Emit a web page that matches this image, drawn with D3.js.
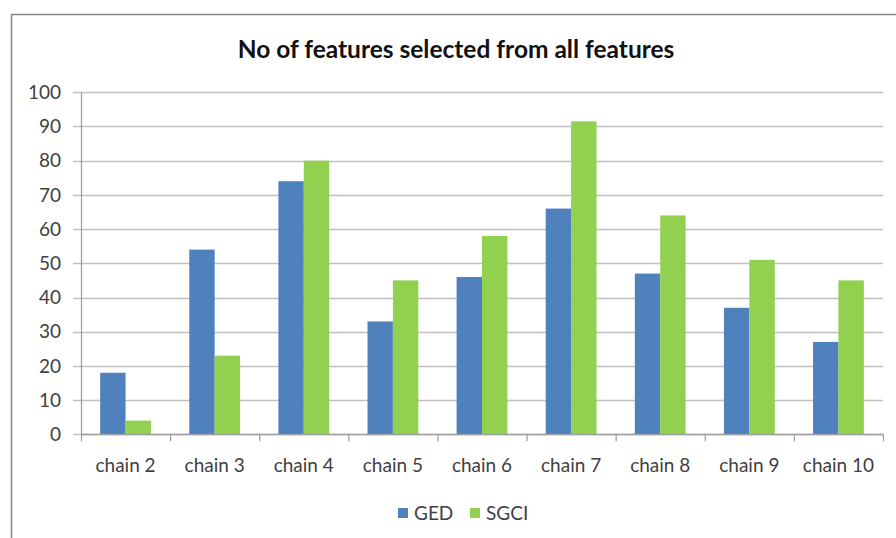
<!DOCTYPE html>
<html>
<head>
<meta charset="utf-8">
<script src="https://cdn.jsdelivr.net/npm/d3@7"></script>
<style>
  body { margin: 0; background: #fff; }
  text { font-family: Lato, "Open Sans", sans-serif; fill: #404040; }
</style>
</head>
<body>
<script>
// data
const categories = ["chain 2", "chain 3", "chain 4", "chain 5", "chain 6", "chain 7", "chain 8", "chain 9", "chain 10"];
const series = ["GED", "SGCI"];
const ged = [18, 54, 74, 33, 46, 66, 47, 37, 27];
const sgci = [4, 23, 80, 45, 58, 91.5, 64, 51, 45];
const yTicks = [0, 10, 20, 30, 40, 50, 60, 70, 80, 90, 100];
const colors = ["#4F81BD", "#92D050"];

const width = 896, height = 538;
const plot = { left: 81, right: 883, top: 92.3, bottom: 434.3 };

const svg = d3.select("body").append("svg")
  .attr("width", width)
  .attr("height", height);

// chart border
svg.append("rect")
  .attr("x", 11.5).attr("y", 14.5)
  .attr("width", 900).attr("height", 540)
  .attr("fill", "#fff")
  .attr("stroke", "#868686")
  .attr("stroke-width", 1.5);

svg.append("text")
  .attr("x", 456).attr("y", 49)
  .attr("dy", "0.35em")
  .attr("text-anchor", "middle")
  .style("font-size", "24.5px")
  .style("font-weight", "bold")
  .style("fill", "#111")
  .text("No of features selected from all features");

const x = d3.scaleBand()
  .domain(categories)
  .range([plot.left, plot.right])
  .paddingInner(0.43)
  .paddingOuter(0.215);

const xSub = d3.scaleBand()
  .domain(series)
  .range([0, x.bandwidth()]);

const y = d3.scaleLinear()
  .domain([0, 100])
  .range([plot.bottom, plot.top]);

// gridlines
svg.append("g")
  .selectAll("line")
  .data(yTicks)
  .enter().append("line")
  .attr("x1", plot.left - 8)
  .attr("x2", plot.right)
  .attr("y1", d => Math.round(y(d)) + 0.5)
  .attr("y2", d => Math.round(y(d)) + 0.5)
  .attr("stroke", "#c0c0c0")
  .attr("stroke-width", 1.3);

// y labels
svg.append("g")
  .selectAll("text")
  .data(yTicks)
  .enter().append("text")
  .attr("x", 61)
  .attr("y", d => y(d))
  .attr("dy", "0.35em")
  .attr("text-anchor", "end")
  .style("font-size", "19px")
  .text(d => d);

// bars
const rows = categories.map((c, i) => ({ cat: c, values: [ged[i], sgci[i]] }));
const groups = svg.append("g")
  .selectAll("g")
  .data(rows)
  .enter().append("g")
  .attr("transform", d => `translate(${x(d.cat)},0)`);

groups.selectAll("rect")
  .data(d => d.values.map((v, j) => ({ key: series[j], v: v, j: j })))
  .enter().append("rect")
  .attr("x", d => xSub(d.key))
  .attr("y", d => y(d.v))
  .attr("width", xSub.bandwidth())
  .attr("height", d => y(0) - y(d.v))
  .attr("fill", d => colors[d.j]);

// axes lines
svg.append("line")
  .attr("x1", plot.left + 0.5).attr("x2", plot.left + 0.5)
  .attr("y1", plot.top).attr("y2", plot.bottom)
  .attr("stroke", "#a0a0a0").attr("stroke-width", 1.3);

svg.append("line")
  .attr("x1", plot.left).attr("x2", plot.right)
  .attr("y1", Math.round(y(0)) + 0.5).attr("y2", Math.round(y(0)) + 0.5)
  .attr("stroke", "#a0a0a0").attr("stroke-width", 1.3);

// category ticks
const step = (plot.right - plot.left) / categories.length;
svg.append("g")
  .selectAll("line")
  .data(d3.range(categories.length + 1))
  .enter().append("line")
  .attr("x1", i => plot.left + i * step + 0.5)
  .attr("x2", i => plot.left + i * step + 0.5)
  .attr("y1", plot.bottom)
  .attr("y2", plot.bottom + 7)
  .attr("stroke", "#a0a0a0").attr("stroke-width", 1.3);

// x labels
svg.append("g")
  .selectAll("text")
  .data(categories)
  .enter().append("text")
  .attr("x", d => x(d) + x.bandwidth() / 2)
  .attr("y", 465)
  .attr("dy", "0.35em")
  .attr("text-anchor", "middle")
  .style("font-size", "19px")
  .text(d => d);

// legend
const legendX = [398, 470];
const legend = svg.append("g")
  .selectAll("g")
  .data(series)
  .enter().append("g")
  .attr("transform", (d, i) => `translate(${legendX[i]},513)`);

legend.append("rect")
  .attr("x", 0).attr("y", -5)
  .attr("width", 10).attr("height", 10)
  .attr("fill", (d, i) => colors[i]);

legend.append("text")
  .attr("x", 16)
  .attr("dy", "0.35em")
  .style("font-size", "19px")
  .text(d => d);
</script>
</body>
</html>
